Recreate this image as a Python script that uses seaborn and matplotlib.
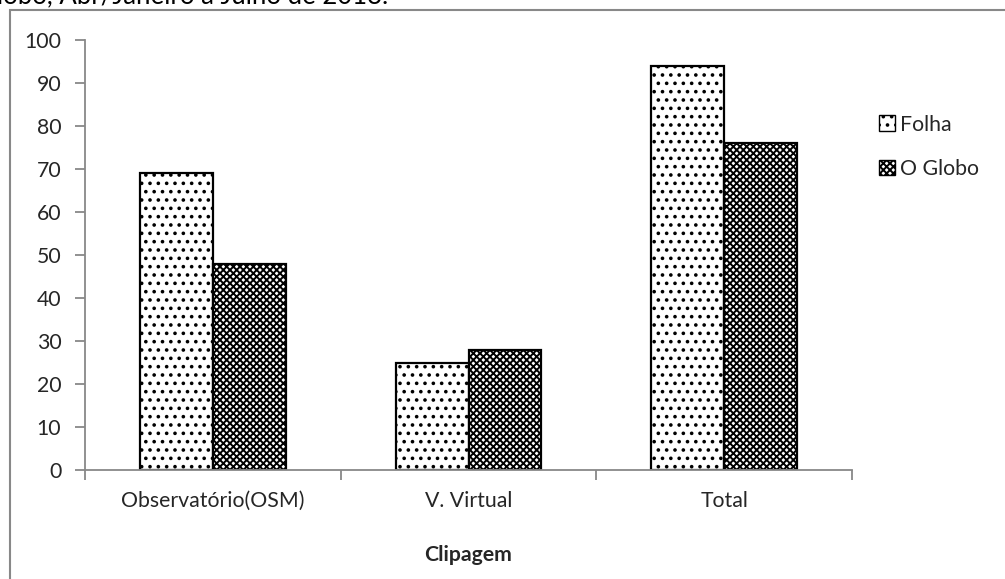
import matplotlib
matplotlib.use("Agg")
import matplotlib.pyplot as plt
import seaborn as sns
import pandas as pd
from matplotlib.patches import Rectangle, Patch

categories = ["Observatório(OSM)", "V. Virtual", "Total"]
series = ["Folha", "O Globo"]
folha = [69, 25, 94]
globo = [48, 28, 76]
yticks = list(range(0, 101, 10))

sns.set_theme(style="white")
plt.rcParams['font.family'] = ['Lato', 'DejaVu Sans']
plt.rcParams['hatch.linewidth'] = 1.4

df = pd.DataFrame({
    "cat": categories * 2,
    "serie": [series[0]] * 3 + [series[1]] * 3,
    "val": folha + globo,
})

FS = 15.3

fig = plt.figure(figsize=(10.05, 5.79), dpi=100)
ax = fig.add_axes([85 / 1005, 1 - 470 / 579, 767 / 1005, 430 / 579])

sns.barplot(data=df, x="cat", y="val", hue="serie", hue_order=series,
            order=categories, ax=ax, width=0.57, palette=["white", "white"],
            edgecolor="black", linewidth=1.6, legend=False, saturation=1)

hatches = {series[0]: "..", series[1]: "xxxxx"}
n = len(categories)
for i, bar in enumerate(ax.patches[:2 * n]):
    s = series[i // n]
    bar.set_hatch(hatches[s])
    bar.set_facecolor("white")
    bar.set_edgecolor("black")

ax.set_xlim(-0.5, 2.5)
ax.set_ylim(0, 100)
ax.set_yticks(yticks)
ax.set_xticks(range(n))
ax.set_xticklabels(categories, fontsize=FS)
ax.tick_params(axis="y", labelsize=FS, length=7, width=1.3, color="#888888",
               left=True, pad=10)
ax.tick_params(axis="x", length=0, pad=15)
ax.set_xticks([-0.5, 0.5, 1.5, 2.5], minor=True)
ax.tick_params(axis="x", which="minor", length=7, width=1.3, color="#888888", bottom=True)

for s in ["top", "right"]:
    ax.spines[s].set_visible(False)
for s in ["left", "bottom"]:
    ax.spines[s].set_color("#888888")
    ax.spines[s].set_linewidth(1.3)

ax.set_ylabel("")
ax.set_xlabel("Clipagem", fontsize=FS, fontweight="bold")
ax.xaxis.set_label_coords(0.5, (470 - 555) / 430)
ax.xaxis.label.set_va("center")

handles = [Patch(facecolor="white", edgecolor="black", hatch=".."),
           Patch(facecolor="white", edgecolor="black", hatch="xxxxx")]
fig.legend(handles, series, loc="upper left", bbox_to_anchor=(868 / 1005, 1 - 104 / 579),
           frameon=False, fontsize=FS, handlelength=0.75, handleheight=0.75,
           handletextpad=0.25, labelspacing=1.15, borderpad=0)

# outer chart border (extends beyond the image)
fig.patches.append(Rectangle((10 / 1005, -0.1), 1.2, 1 - 10 / 579 + 0.1,
                             transform=fig.transFigure, fill=False,
                             edgecolor="#888888", linewidth=1.5, zorder=0))

# clipped caption at the very top
fig.text(-3 / 1005, 1 - 3 / 579, "lobo, Abr/Janeiro a Julho de 2013.", fontsize=18.5,
         ha="left", va="baseline", color="black")

fig.savefig("out.png", dpi=100)
